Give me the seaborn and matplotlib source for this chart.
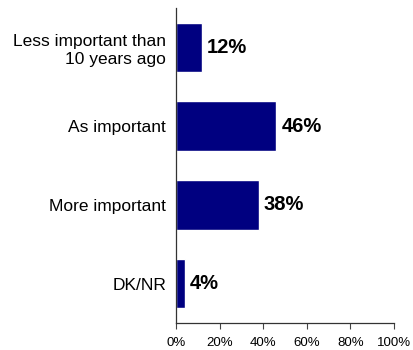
import matplotlib
matplotlib.use("Agg")
import matplotlib.pyplot as plt
import seaborn as sns
import pandas as pd

categories = ["Less important than\n10 years ago", "As important", "More important", "DK/NR"]
values = [12, 46, 38, 4]
xticks = [0, 20, 40, 60, 80, 100]
xtick_labels = ["0%", "20%", "40%", "60%", "80%", "100%"]

sns.set_theme(style="white")
plt.rcParams['font.family'] = ['Liberation Sans', 'DejaVu Sans']

df = pd.DataFrame({"category": categories, "value": values})

fig = plt.figure(figsize=(4.13, 3.5), dpi=100)
ax = fig.add_axes([0.426, 0.077, 0.528, 0.9])
sns.barplot(data=df, x="value", y="category", orient="h", color="#000080",
            saturation=1, width=0.63, ax=ax)

ax.set_xlim(0, 100)
ax.set_ylim(3.5, -0.5)
ax.set_xticks(xticks)
ax.set_xticklabels(xtick_labels, fontsize=9.5, color="black")
ax.set_xlabel("")
ax.set_ylabel("")
ax.tick_params(axis="y", length=0, pad=7, labelsize=12.5, labelcolor="black")
ax.tick_params(axis="x", length=4, width=0.8, direction="out", pad=6, color="#444444", bottom=True)
for lab in ax.get_yticklabels():
    lab.set_multialignment("right")
    lab.set_linespacing(1.25)

for s in ["top", "right"]:
    ax.spines[s].set_visible(False)
for s in ["left", "bottom"]:
    ax.spines[s].set_color("#333333")
    ax.spines[s].set_linewidth(0.9)

for i, v in enumerate(values):
    ax.text(v + 2.3, i, f"{v}%", va="center", ha="left", fontsize=14.5, fontweight="bold", color="black")

fig.savefig("out.png", dpi=100)
